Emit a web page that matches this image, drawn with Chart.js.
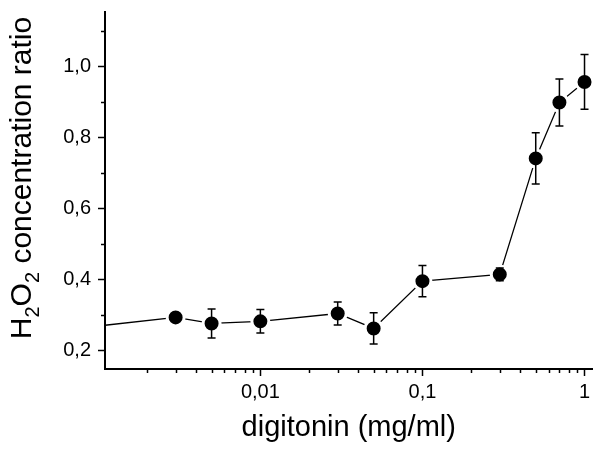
<!DOCTYPE html>
<html>
<head>
<meta charset="utf-8">
<script src="https://cdn.jsdelivr.net/npm/chart.js@4/dist/chart.umd.min.js"></script>
<style>
  html, body { margin: 0; padding: 0; background: #fff; }
  #wrap { width: 604px; height: 455px; }
</style>
</head>
<body>
<div id="wrap"><canvas id="chart" width="604" height="455"></canvas></div>
<script>
// digitonin dose (mg/ml); first entry is where the line enters at the left axis edge
const doses  = [0.0011, 0.003, 0.005, 0.01, 0.03, 0.05, 0.1, 0.3, 0.5, 0.7, 1.0];
const ratios = [0.272, 0.294, 0.277, 0.283, 0.305, 0.263, 0.396, 0.415, 0.741, 0.898, 0.956];
const errors = [0, 0.005, 0.041, 0.033, 0.032, 0.044, 0.044, 0.018, 0.072, 0.066, 0.077];
const showMarker = [false, true, true, true, true, true, true, true, true, true, true];

// axis ticks
const xTicks = [0.002, 0.003, 0.004, 0.005, 0.006, 0.007, 0.008, 0.009,
                0.01, 0.02, 0.03, 0.04, 0.05, 0.06, 0.07, 0.08, 0.09,
                0.1, 0.2, 0.3, 0.4, 0.5, 0.6, 0.7, 0.8, 0.9, 1];
const xLabels = { 0.01: '0,01', 0.1: '0,1', 1: '1' };
const yTicks = [0.2, 0.3, 0.4, 0.5, 0.6, 0.7, 0.8, 0.9, 1.0, 1.1];
const yLabels = { 0.2: '0,2', 0.4: '0,4', 0.6: '0,6', 0.8: '0,8', 1.0: '1,0' };

const FONT = "'Liberation Sans', Arial, sans-serif";

function labelFor(map, v) {
    const key = Object.keys(map).find(k => Math.abs(parseFloat(k) - v) < 1e-9);
    return key !== undefined ? map[key] : '';
}

// short minor ticks, drawn on the scales after chart.js draws the major ones
const minorTicks = {
    id: 'minorTicks',
    afterDraw(chart) {
        const ctx = chart.ctx;
        const x = chart.scales.x, y = chart.scales.y;
        ctx.save();
        ctx.strokeStyle = '#000';
        ctx.lineWidth = 1.5;
        xTicks.forEach(v => {
            if (labelFor(xLabels, v)) return;
            const px = Math.round(x.getPixelForValue(v)) + 0.5;
            ctx.beginPath();
            ctx.moveTo(px, x.top);
            ctx.lineTo(px, x.top + 4);
            ctx.stroke();
        });
        yTicks.forEach(v => {
            if (labelFor(yLabels, v)) return;
            const py = Math.round(y.getPixelForValue(v)) + 0.5;
            ctx.beginPath();
            ctx.moveTo(y.right, py);
            ctx.lineTo(y.right - 4, py);
            ctx.stroke();
        });
        ctx.restore();
    }
};

// vertical error bars with caps
const errorBars = {
    id: 'errorBars',
    afterDatasetsDraw(chart) {
        const ctx = chart.ctx;
        const x = chart.scales.x, y = chart.scales.y;
        ctx.save();
        ctx.strokeStyle = '#000';
        ctx.lineWidth = 1.5;
        doses.forEach((d, i) => {
            if (!showMarker[i] || !errors[i]) return;
            const px = x.getPixelForValue(d);
            const top = y.getPixelForValue(ratios[i] + errors[i]);
            const bot = y.getPixelForValue(ratios[i] - errors[i]);
            ctx.beginPath();
            ctx.moveTo(px, top); ctx.lineTo(px, bot);
            ctx.moveTo(px - 4, top); ctx.lineTo(px + 4, top);
            ctx.moveTo(px - 4, bot); ctx.lineTo(px + 4, bot);
            ctx.stroke();
        });
        ctx.restore();
    }
};

// rotated y title with subscripts (H2O2)
const yTitle = {
    id: 'yTitle',
    afterDraw(chart) {
        const ctx = chart.ctx;
        const parts = [
            ['H', false], ['2', true], ['O', false], ['2', true], [' concentration ratio', false]
        ];
        const big = '30px ' + FONT, small = '20px ' + FONT;
        let total = 0;
        parts.forEach(p => { ctx.font = p[1] ? small : big; total += ctx.measureText(p[0]).width; });
        ctx.save();
        ctx.translate(31, 178);
        ctx.rotate(-Math.PI / 2);
        ctx.fillStyle = '#000';
        ctx.textBaseline = 'alphabetic';
        let cx = -total / 2;
        parts.forEach(p => {
            ctx.font = p[1] ? small : big;
            ctx.fillText(p[0], cx, p[1] ? 8 : 0);
            cx += ctx.measureText(p[0]).width;
        });
        ctx.restore();
    }
};

const points = doses.map((d, i) => ({ x: d, y: ratios[i] }));

new Chart(document.getElementById('chart'), {
    type: 'line',
    data: {
        datasets: [{
            data: points,
            borderColor: '#000',
            borderWidth: 1.3,
            tension: 0,
            pointRadius: ctx => showMarker[ctx.dataIndex] ? 8.5 : 0,
            pointBackgroundColor: '#000',
            pointBorderColor: '#fff',
            pointBorderWidth: 3,
            clip: false
        }]
    },
    options: {
        responsive: false,
        animation: false,
        layout: { padding: { top: 6, right: 9, left: 0, bottom: 0 } },
        plugins: { legend: { display: false }, tooltip: { enabled: false } },
        scales: {
            x: {
                type: 'logarithmic',
                min: 0.0011,
                max: 1.12,
                afterBuildTicks: s => { s.ticks = xTicks.map(v => ({ value: v })); },
                afterFit: s => { s.height = 86; s.paddingLeft = 0; s.paddingRight = 0; },
                border: { display: true, color: '#000', width: 2 },
                grid: {
                    drawOnChartArea: false,
                    tickLength: 7,
                    tickWidth: 1.5,
                    tickColor: c => labelFor(xLabels, c.tick.value) ? '#000' : 'rgba(0,0,0,0)'
                },
                ticks: {
                    autoSkip: false,
                    maxRotation: 0,
                    padding: 4,
                    color: '#000',
                    font: { family: FONT, size: 20 },
                    callback: v => labelFor(xLabels, v)
                },
                title: {
                    display: true,
                    text: 'digitonin (mg/ml)',
                    color: '#000',
                    font: { family: FONT, size: 29 },
                    padding: { top: 0, bottom: 10 }
                }
            },
            y: {
                type: 'linear',
                min: 0.149,
                max: 1.154,
                afterBuildTicks: s => { s.ticks = yTicks.map(v => ({ value: v })); },
                afterFit: s => { s.width = 105; s.paddingTop = 0; s.paddingBottom = 0; },
                border: { display: true, color: '#000', width: 2 },
                grid: {
                    drawOnChartArea: false,
                    tickLength: 7,
                    tickWidth: 1.5,
                    tickColor: c => labelFor(yLabels, c.tick.value) ? '#000' : 'rgba(0,0,0,0)'
                },
                ticks: {
                    autoSkip: false,
                    padding: 7,
                    color: '#000',
                    font: { family: FONT, size: 20 },
                    callback: v => labelFor(yLabels, v)
                }
            }
        }
    },
    plugins: [minorTicks, errorBars, yTitle]
});
</script>
</body>
</html>
